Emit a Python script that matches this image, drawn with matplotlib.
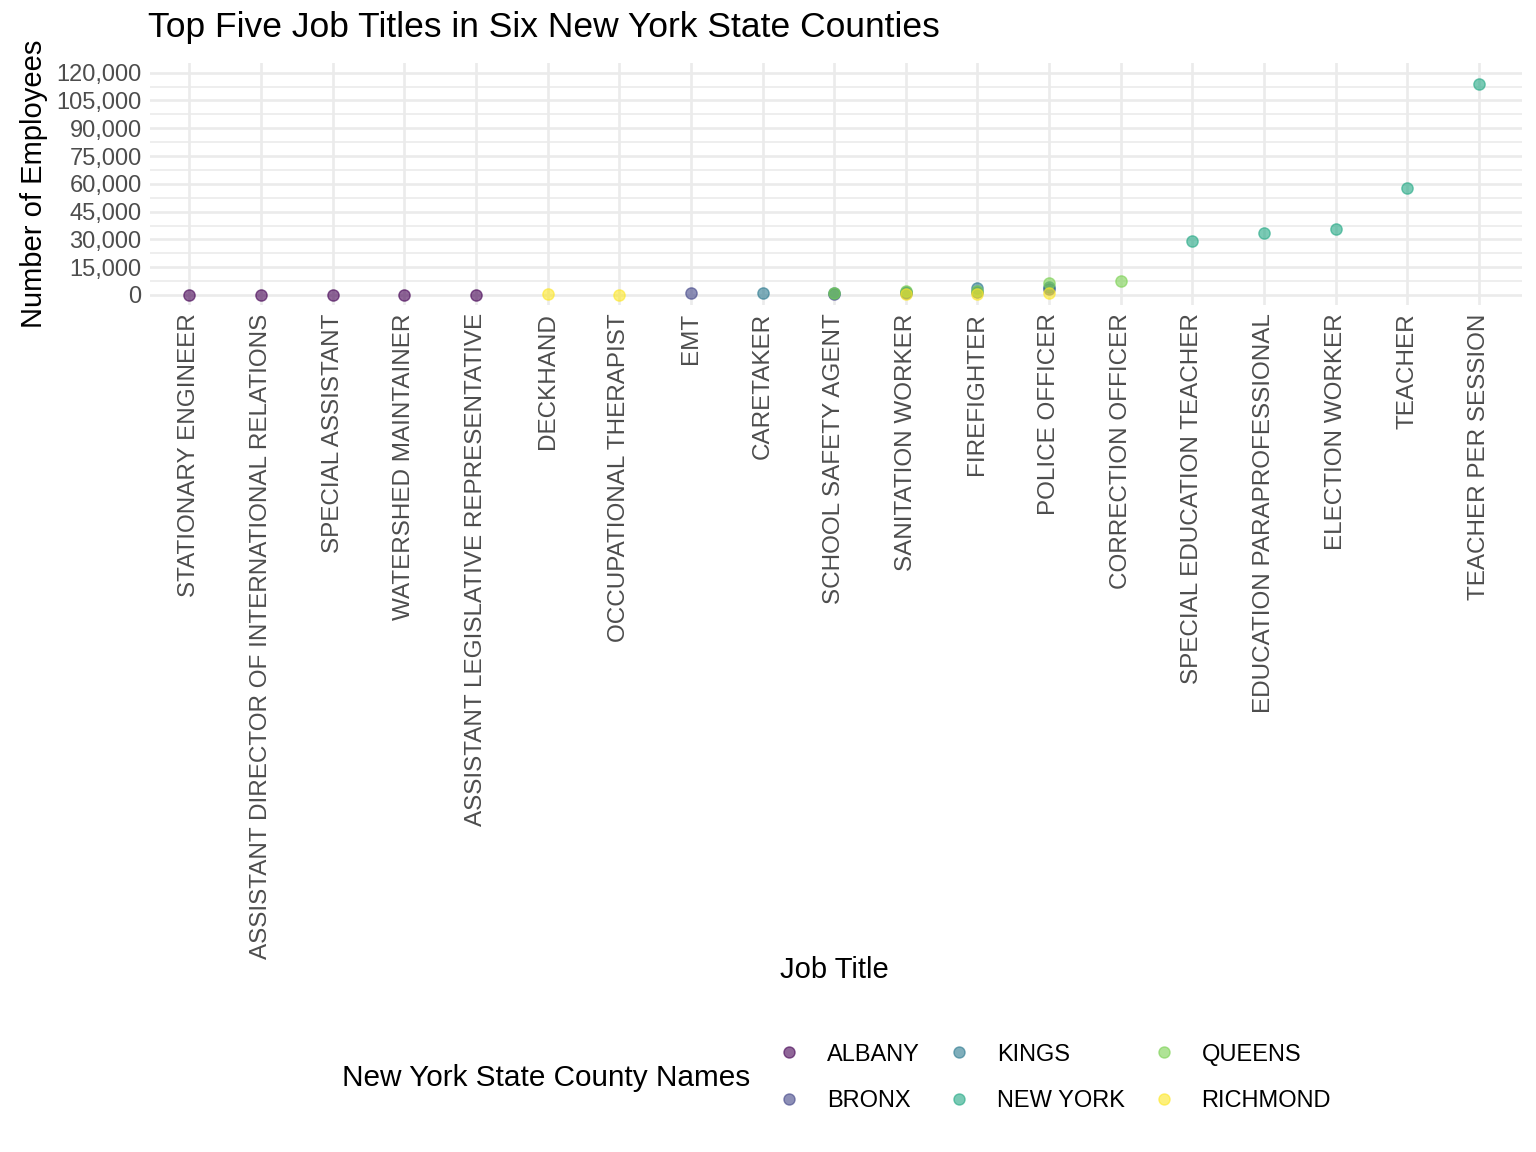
import matplotlib
matplotlib.use('Agg')
import matplotlib.pyplot as plt
from matplotlib.lines import Line2D
from matplotlib.ticker import MultipleLocator, FuncFormatter

plt.rcParams['font.family'] = ['Liberation Sans', 'DejaVu Sans']

# job titles in the order of the x axis
job_titles = [
    'STATIONARY ENGINEER', 'ASSISTANT DIRECTOR OF INTERNATIONAL RELATIONS',
    'SPECIAL ASSISTANT', 'WATERSHED MAINTAINER',
    'ASSISTANT LEGISLATIVE REPRESENTATIVE', 'DECKHAND', 'OCCUPATIONAL THERAPIST',
    'EMT', 'CARETAKER', 'SCHOOL SAFETY AGENT', 'SANITATION WORKER',
    'FIREFIGHTER', 'POLICE OFFICER', 'CORRECTION OFFICER',
    'SPECIAL EDUCATION TEACHER', 'EDUCATION PARAPROFESSIONAL',
    'ELECTION WORKER', 'TEACHER', 'TEACHER PER SESSION',
]

counties = ['ALBANY', 'BRONX', 'KINGS', 'NEW YORK', 'QUEENS', 'RICHMOND']
county_colors = ['#440154', '#414487', '#2A788E', '#22A884', '#7AD151', '#FDE725']

# top five titles per county (estimated counts)
albany_titles = ['STATIONARY ENGINEER', 'ASSISTANT DIRECTOR OF INTERNATIONAL RELATIONS',
                 'SPECIAL ASSISTANT', 'WATERSHED MAINTAINER',
                 'ASSISTANT LEGISLATIVE REPRESENTATIVE']
albany_counts = [30, 25, 20, 15, 12]

bronx_titles = ['EMT', 'SCHOOL SAFETY AGENT', 'SANITATION WORKER', 'FIREFIGHTER', 'POLICE OFFICER']
bronx_counts = [900, 700, 900, 1500, 3500]

kings_titles = ['CARETAKER', 'SCHOOL SAFETY AGENT', 'SANITATION WORKER', 'FIREFIGHTER', 'POLICE OFFICER']
kings_counts = [1100, 900, 1800, 4000, 4500]

newyork_titles = ['SPECIAL EDUCATION TEACHER', 'EDUCATION PARAPROFESSIONAL',
                  'ELECTION WORKER', 'TEACHER', 'TEACHER PER SESSION']
newyork_counts = [29300, 33300, 35400, 58000, 113900]

queens_titles = ['CORRECTION OFFICER', 'SCHOOL SAFETY AGENT', 'SANITATION WORKER', 'FIREFIGHTER', 'POLICE OFFICER']
queens_counts = [7600, 1000, 2300, 2000, 6300]

richmond_titles = ['DECKHAND', 'OCCUPATIONAL THERAPIST', 'SANITATION WORKER', 'FIREFIGHTER', 'POLICE OFFICER']
richmond_counts = [300, 250, 600, 800, 1000]

county_data = [
    (albany_titles, albany_counts),
    (bronx_titles, bronx_counts),
    (kings_titles, kings_counts),
    (newyork_titles, newyork_counts),
    (queens_titles, queens_counts),
    (richmond_titles, richmond_counts),
]

W, H = 1536, 1152
fig = plt.figure(figsize=(W / 100, H / 100), dpi=100)
ax = fig.add_axes([150 / W, 1 - 305 / H, 1372 / W, (305 - 62.7) / H])

pos = {t: i for i, t in enumerate(job_titles)}
for (titles, counts), col in zip(county_data, county_colors):
    xs = [pos[t] for t in titles]
    ax.scatter(xs, counts, s=66, color=col, alpha=0.6, edgecolors=col,
               linewidths=1.0, zorder=3)

ax.set_xlim(-0.55, len(job_titles) - 0.4)
ax.set_ylim(-5400, 125400)
ax.set_xticks(range(len(job_titles)))
ax.set_xticklabels(job_titles, rotation=90, ha='center', va='top',
                   fontsize=17.5, color='#4D4D4D')
ax.yaxis.set_major_locator(MultipleLocator(15000))
ax.yaxis.set_minor_locator(MultipleLocator(7500))
ax.yaxis.set_major_formatter(FuncFormatter(lambda v, p: f'{int(v):,}'))
ax.tick_params(axis='y', labelsize=17, labelcolor='#4D4D4D', length=0, pad=6)
ax.tick_params(axis='x', length=0, pad=6)
ax.tick_params(which='minor', length=0)

ax.grid(which='major', color='#EBEBEB', linewidth=1.9, zorder=0)
ax.grid(which='minor', axis='y', color='#EBEBEB', linewidth=1.2, zorder=0)
ax.set_axisbelow(True)
for sp in ax.spines.values():
    sp.set_visible(False)

ax.set_ylabel('Number of Employees', fontsize=21, labelpad=6)
fig.text(834 / W, 1 - 970 / H, 'Job Title', fontsize=21, ha='center', va='center')
fig.text(148 / W, 1 - 28 / H, 'Top Five Job Titles in Six New York State Counties',
         fontsize=25.5, ha='left', va='center')

# legend at the bottom, title to the left
fig.text(546 / W, 1 - 1078 / H, 'New York State County Names', fontsize=21.4,
         ha='center', va='center')
handles = [Line2D([], [], linestyle='none', marker='o', markersize=8,
                  markerfacecolor=c, markeredgecolor=c, alpha=0.6) for c in county_colors]
fig.legend(handles, counties, loc='center left', bbox_to_anchor=(754 / W, 1 - 1078 / H),
           ncol=3, frameon=False, fontsize=17, handletextpad=1.0,
           columnspacing=1.05, labelspacing=1.05, handlelength=1.2)

fig.savefig('out.png', dpi=100, facecolor='white')
